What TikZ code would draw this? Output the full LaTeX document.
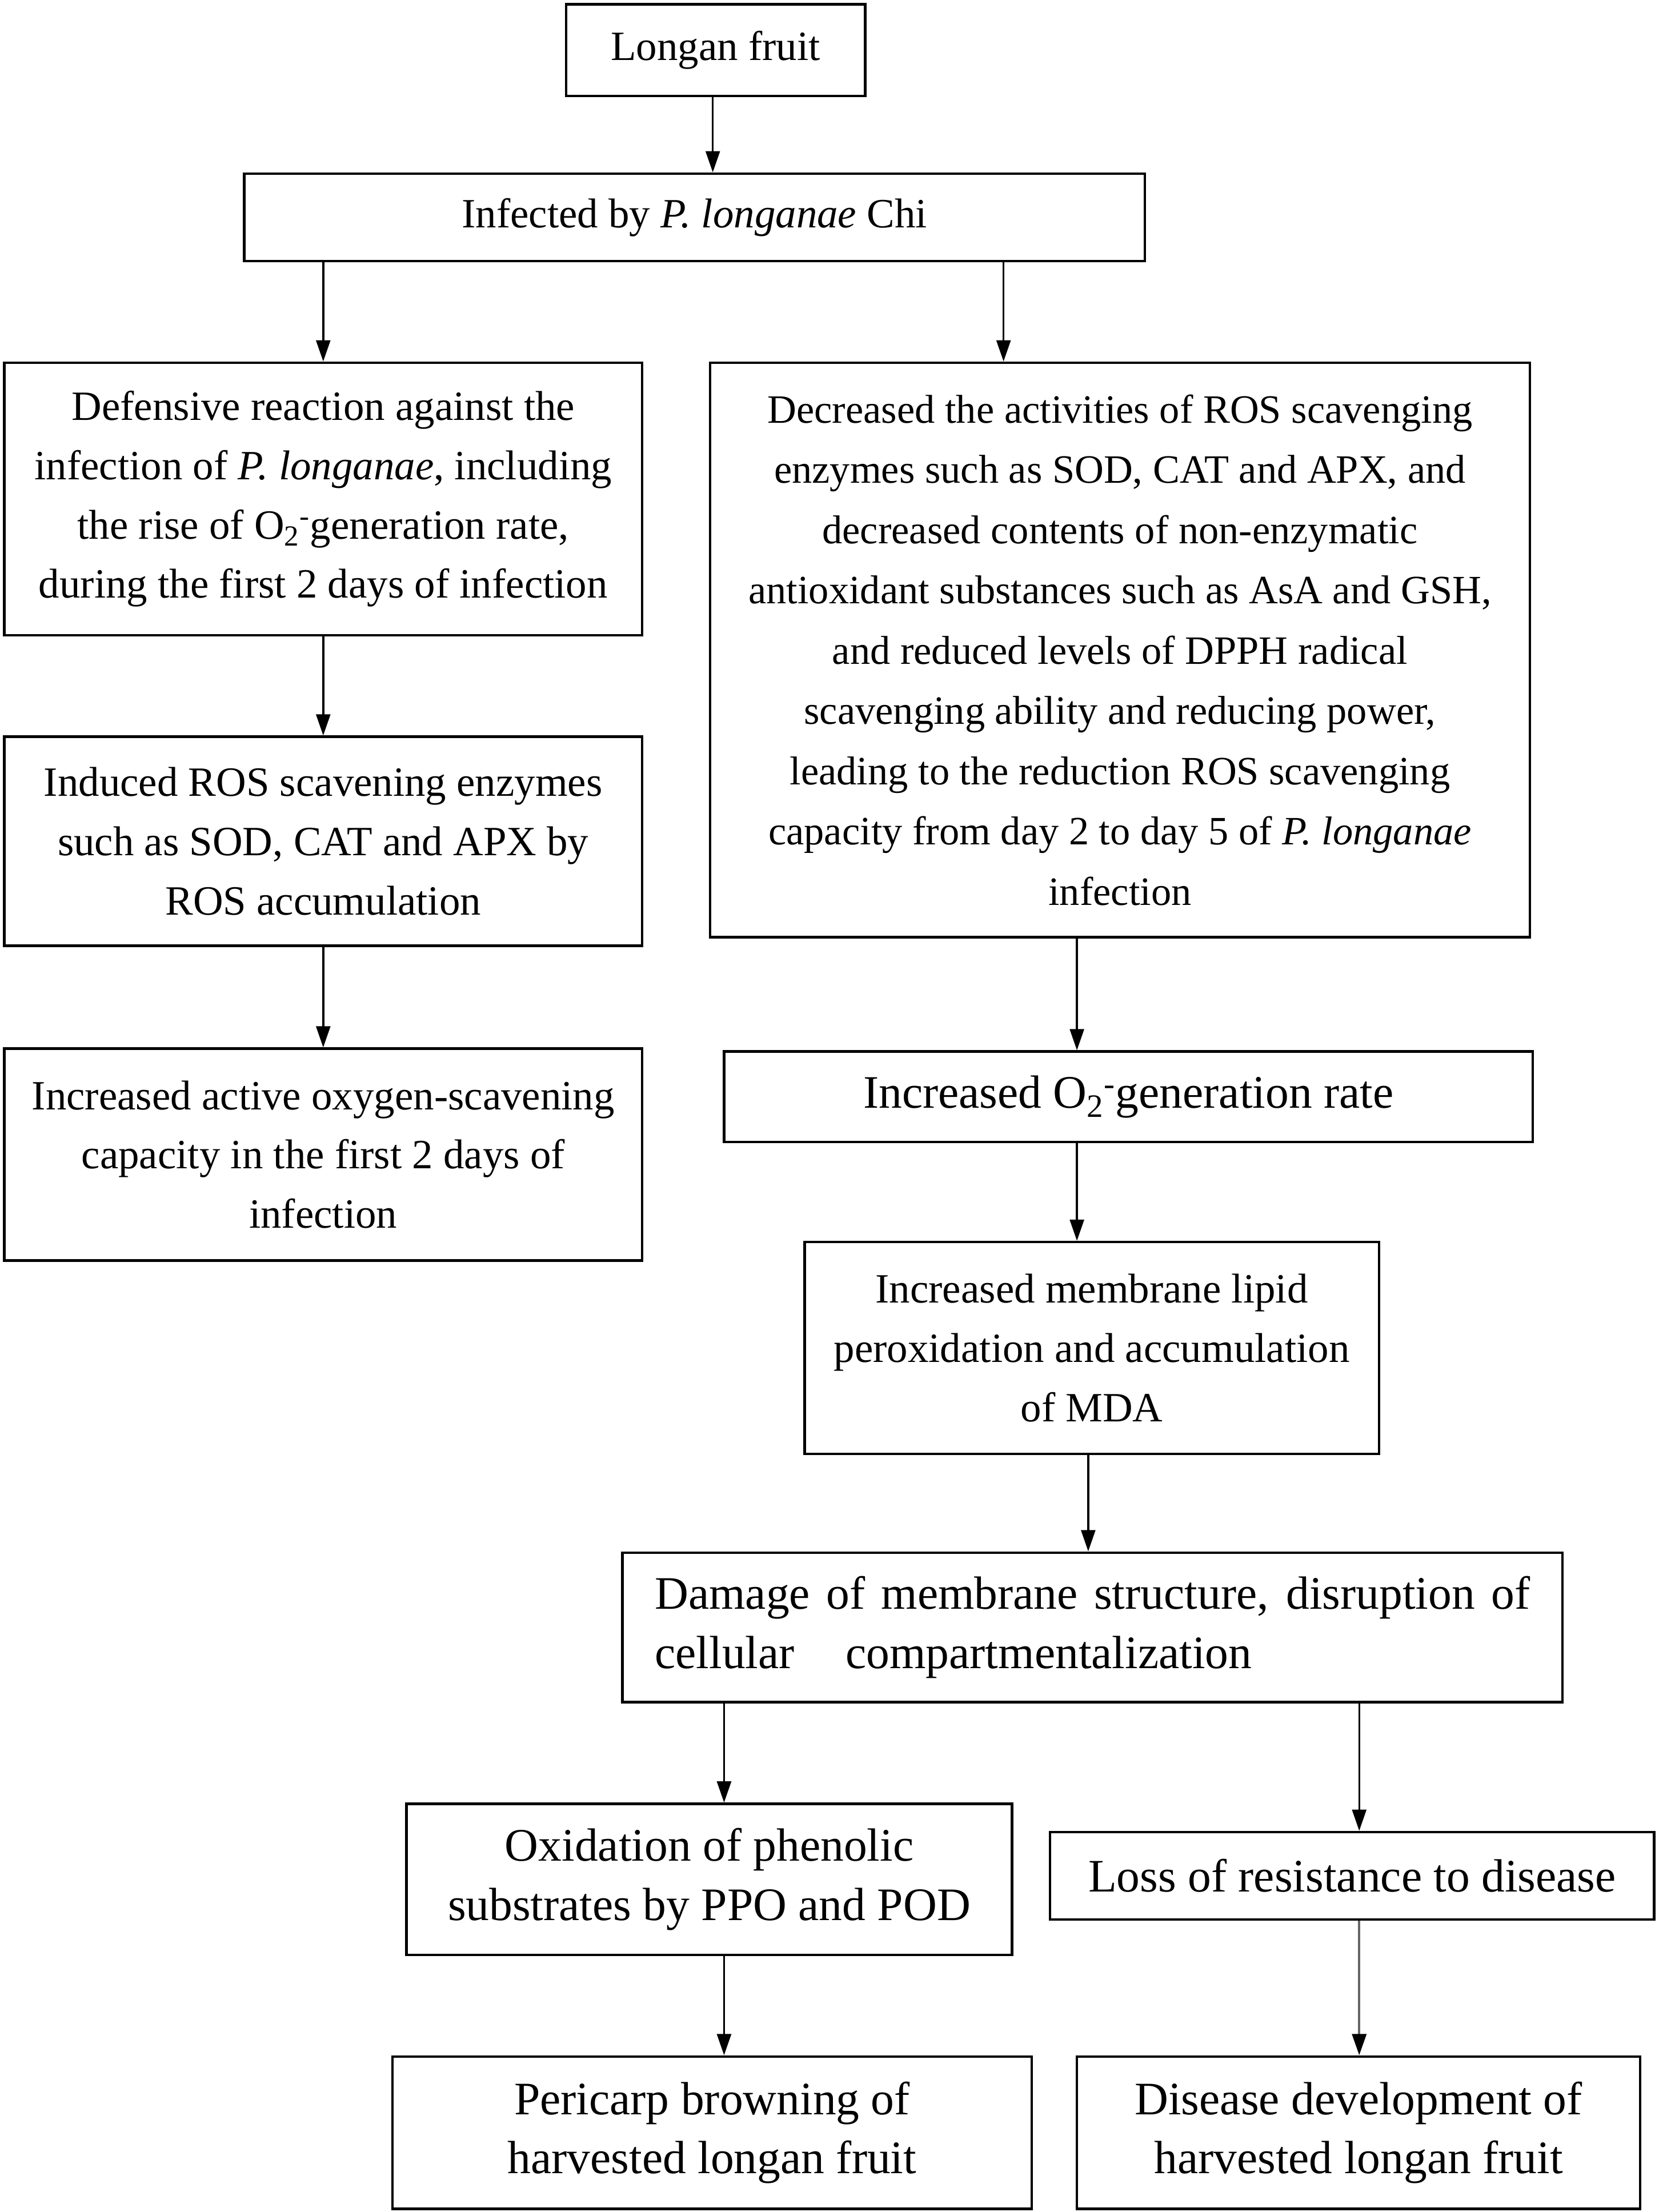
\documentclass[tikz,border=0pt]{standalone}
\usepackage{fontspec}
\setmainfont{Liberation Serif}
\usetikzlibrary{arrows.meta}

\tikzset{
	box/.style={draw,line width=1.8pt,inner sep=0pt,align=center,font=\fontsize{29.5}{42}\selectfont},
	bigbox/.style={box,font=\fontsize{33}{42}\selectfont},
	arr/.style={line width=1.4pt,-{Triangle[length=15pt,width=10pt,black]}},
}

\begin{document}
\begin{tikzpicture}[x=1pt,y=-1pt]
		\useasboundingbox (0,0) rectangle (1175,1567.2);
		% top
		\node[box,minimum width=212pt,minimum height=65pt] (fruit) at (507,35.5) {Longan fruit};
		\node[box,minimum width=638pt,minimum height=62pt] (infect) at (492,154) {Infected by \textit{P. longanae} Chi};
		% left branch
		\node[box,minimum width=452pt,minimum height=193pt] (defense) at (229,353.5) {Defensive reaction against the\\infection of \textit{P. longanae}, including\\the rise of O\textsubscript{2}\textsuperscript{-}generation rate,\\during the first 2 days of infection};
		\node[box,minimum width=452pt,minimum height=148pt] (induce) at (229,596) {Induced ROS scavening enzymes\\such as SOD, CAT and APX by\\ROS accumulation};
		\node[box,minimum width=452pt,minimum height=150pt] (capacity) at (229,818) {Increased active oxygen-scavening\\capacity in the first 2 days of\\infection};
		% right branch
		\node[box,minimum width=581pt,minimum height=407pt,font=\fontsize{28.5}{42.7}\selectfont] (decrease) at (793.5,460.5) {Decreased the activities of ROS scavenging\\enzymes such as SOD, CAT and APX, and\\decreased contents of non-enzymatic\\antioxidant substances such as AsA and GSH,\\and reduced levels of DPPH radical\\scavenging ability and reducing power,\\leading to the reduction ROS scavenging\\capacity from day 2 to day 5 of \textit{P. longanae}\\infection};
		\node[bigbox,minimum width=573pt,minimum height=64pt] (superox) at (799.5,777) {Increased O\textsubscript{2}\textsuperscript{-}generation rate};
		\node[box,minimum width=407pt,minimum height=150pt] (lipid) at (773.5,955) {Increased membrane lipid\\peroxidation and accumulation\\of MDA};
		\node[bigbox,minimum width=666pt,minimum height=106pt,align=left] (damage) at (774,1153) {\makebox[620pt][s]{Damage of membrane structure, disruption of}\\cellular\hspace{28pt} compartmentalization};
		% bottom
		\node[bigbox,minimum width=429pt,minimum height=107pt] (phenol) at (502.5,1331.5) {Oxidation of phenolic\\substrates by PPO and POD};
		\node[bigbox,minimum width=428pt,minimum height=62pt] (loss) at (958,1329) {Loss of resistance to disease};
		\node[bigbox,minimum width=453pt,minimum height=108pt] (brown) at (504.5,1511) {Pericarp browning of\\harvested longan fruit};
		\node[bigbox,minimum width=399pt,minimum height=108pt] (disease) at (962.5,1511) {Disease development of\\harvested longan fruit};
		% arrows
		\draw[arr] ([xshift=-2pt]fruit.south) -- ([xshift=-2pt]fruit.south |- infect.north);
		\draw[arr] (infect.south -| defense.north) -- (defense.north);
		\draw[arr] ([xshift=-82.5pt]decrease.north |- infect.south) -- ([xshift=-82.5pt]decrease.north);
		\draw[arr] (defense) -- (induce);
		\draw[arr] (induce) -- (capacity);
		\draw[arr] ([xshift=-36.5pt]superox.north |- decrease.south) -- ([xshift=-36.5pt]superox.north);
		\draw[arr] ([xshift=-10.5pt]lipid.north |- superox.south) -- ([xshift=-10.5pt]lipid.north);
		\draw[arr] ([xshift=-3pt]damage.north |- lipid.south) -- ([xshift=-3pt]damage.north);
		\draw[arr] ([xshift=10.5pt]phenol.north |- damage.south) -- ([xshift=10.5pt]phenol.north);
		\draw[arr] ([xshift=5pt]loss.north |- damage.south) -- ([xshift=5pt]loss.north);
		\draw[arr] ([xshift=10.5pt]phenol.south) -- ([xshift=10.5pt]phenol.south |- brown.north);
		\draw[arr,draw=black!60,line width=1.8pt] ([xshift=5pt]loss.south) -- ([xshift=5pt]loss.south |- disease.north);
	\end{tikzpicture}
\end{document}
